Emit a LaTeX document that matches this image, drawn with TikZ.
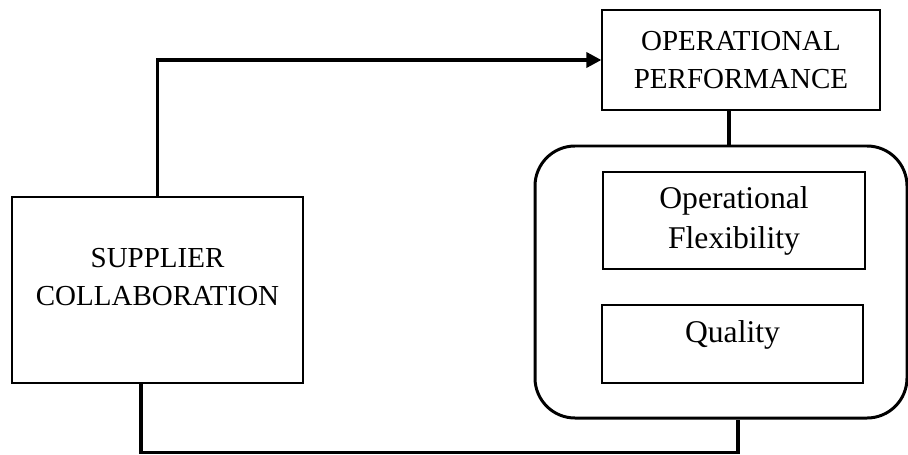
\documentclass[tikz,border=0pt]{standalone}
\usepackage{fontspec}
\setmainfont{Liberation Serif}
\usepackage{tikz}
\usetikzlibrary{positioning, arrows.meta, calc}
\tikzset{
  block/.style   = {rectangle, draw=black, line width=0.7pt, fill=white, inner sep=0pt},
  group/.style   = {rectangle, rounded corners=8mm, draw=black, line width=1.7pt, inner sep=0pt},
  capstext/.style = {align=center, font=\fontsize{16.5}{22}\selectfont},
  smalltext/.style = {align=center, font=\fontsize{18}{22.7}\selectfont},
  conn/.style    = {-{Triangle[length=3mm, width=3mm]}, line width=2pt, draw=black},
  link/.style    = {line width=2pt, draw=black},
}
\begin{document}
\begin{tikzpicture}[x=1cm, y=1cm]
    \useasboundingbox (0,0) rectangle (18.16,9.08);

    % outcome construct
    \node[block, capstext, minimum width=5.56cm, minimum height=2cm] (operf) at (14.82,7.88)
      {OPERATIONAL\\PERFORMANCE};

    % dimensions of operational performance
    \node[group, minimum width=7.44cm, minimum height=5.44cm] (dims) at (14.42,3.44) {};
    \node[block, smalltext, minimum width=5.24cm, minimum height=1.94cm] (flex) at (14.68,4.67)
      {Operational\\Flexibility};
    \node[block, minimum width=5.22cm, minimum height=1.56cm] (quality) at (14.65,2.2) {};
    \node[smalltext] (qualitytext) at ([yshift=1.8mm]quality.center) {Quality};

    % driver construct
    \node[block, minimum width=5.82cm, minimum height=3.72cm] (supplier) at (3.15,3.28) {};
    \node[capstext] (suppliertext) at ([yshift=2.6mm]supplier.center) {SUPPLIER\\COLLABORATION};

    % edges
    \draw[conn] (supplier.north) |- (operf.west);
    \draw[link] ([xshift=-2.4mm]operf.south) -- ([xshift=-2.4mm]operf.south |- dims.north);
    \draw[link] ([xshift=-3.3mm]supplier.south) -- ++(0,-1.38) -| ([xshift=3.4mm]dims.south);
\end{tikzpicture}
\end{document}
